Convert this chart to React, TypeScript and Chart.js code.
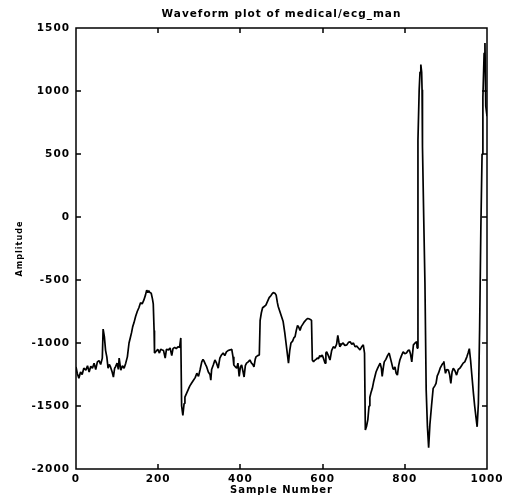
import React, { useEffect, useRef } from "react";
import { Chart, registerables } from "chart.js";

Chart.register(...registerables);

const TITLE = "Waveform plot of medical/ecg_man";
const X_TITLE = "Sample Number";
const Y_TITLE = "Amplitude";

const X_MIN = 0;
const X_MAX = 1000;
const X_STEP = 200;
const Y_MIN = -2000;
const Y_MAX = 1500;
const Y_STEP = 500;

const sampleIndex: number[] = [
  0, 3, 7, 11, 15, 19, 24, 28, 32, 36, 40, 44, 48, 52, 56, 60, 64, 66, 69, 72,
  75, 78, 81, 84, 88, 91, 94, 96, 100, 103, 105, 109, 113, 117, 121, 125, 129, 132, 135, 138,
  141, 145, 149, 153, 157, 161, 165, 169, 172, 175, 177, 180, 183, 186, 188, 190, 191, 195, 199, 203,
  206, 210, 213, 217, 220, 225, 229, 233, 236, 240, 244, 248, 252, 255, 257, 260, 263, 265, 269, 273,
  277, 281, 285, 290, 294, 298, 302, 306, 309, 311, 315, 318, 322, 326, 328, 330, 334, 338, 342, 346,
  350, 354, 358, 362, 366, 370, 375, 379, 382, 384, 388, 391, 394, 397, 400, 403, 406, 409, 412, 415,
  419, 423, 427, 430, 433, 436, 438, 442, 446, 448, 451, 454, 458, 462, 466, 470, 474, 477, 480, 484,
  487, 490, 492, 496, 500, 504, 508, 511, 514, 517, 520, 523, 527, 530, 533, 536, 539, 542, 545, 548,
  552, 556, 560, 564, 568, 571, 573, 575, 578, 580, 584, 587, 590, 593, 596, 599, 602, 606, 608, 610,
  614, 618, 622, 626, 630, 634, 637, 640, 642, 646, 650, 654, 659, 663, 667, 671, 675, 679, 683, 687,
  691, 695, 699, 702, 704, 707, 710, 713, 715, 718, 721, 724, 727, 730, 734, 737, 740, 743, 745, 748,
  750, 754, 758, 762, 765, 768, 771, 773, 776, 779, 782, 785, 788, 792, 796, 800, 804, 808, 811, 814,
  817, 819, 821, 825, 829, 830, 832, 835, 837, 839, 841, 842, 843, 846, 849, 852, 855, 858, 861, 865,
  869, 873, 876, 879, 882, 886, 890, 893, 895, 897, 899, 902, 906, 909, 912, 915, 918, 922, 926, 930,
  934, 938, 942, 946, 951, 954, 957, 960, 963, 967, 970, 973, 976, 979, 982, 985, 988, 990, 993, 995,
  997, 1000,
];

const amplitude: number[] = [
  -1190, -1240, -1280, -1230, -1250, -1200, -1215, -1180, -1230, -1185, -1200, -1160, -1210, -1150, -1140, -1170, -1120, -890, -950, -1060,
  -1110, -1200, -1170, -1190, -1230, -1270, -1200, -1190, -1160, -1210, -1120, -1215, -1180, -1200, -1160, -1110, -1000, -960, -920, -870,
  -840, -790, -750, -720, -680, -690, -660, -620, -580, -600, -585, -600, -605, -650, -690, -900, -1080, -1065, -1050, -1080,
  -1050, -1056, -1060, -1120, -1050, -1055, -1040, -1100, -1045, -1035, -1045, -1030, -1035, -960, -1500, -1575, -1480, -1430, -1400, -1370,
  -1340, -1320, -1300, -1275, -1240, -1265, -1210, -1150, -1130, -1140, -1170, -1190, -1230, -1250, -1295, -1210, -1175, -1135, -1160, -1200,
  -1120, -1095, -1080, -1100, -1070, -1060, -1055, -1050, -1110, -1175, -1190, -1200, -1160, -1265, -1190, -1175, -1220, -1270, -1180, -1160,
  -1150, -1135, -1160, -1170, -1190, -1130, -1110, -1100, -1095, -820, -760, -720, -710, -700, -670, -640, -625, -610, -600, -605,
  -620, -680, -710, -750, -790, -830, -920, -1000, -1080, -1160, -1060, -1000, -985, -960, -950, -900, -860, -875, -900, -870,
  -850, -830, -815, -805, -810, -815, -820, -1135, -1150, -1140, -1130, -1120, -1125, -1100, -1110, -1095, -1120, -1160, -1080, -1070,
  -1100, -1135, -1060, -1030, -1040, -1010, -940, -1000, -1030, -1010, -1000, -1020, -1015, -995, -990, -1010, -1000, -1030, -1025, -1040,
  -1055, -1030, -1015, -1080, -1690, -1660, -1610, -1500, -1430, -1390, -1360, -1310, -1270, -1230, -1200, -1180, -1160, -1200, -1265, -1190,
  -1150, -1130, -1100, -1080, -1120, -1160, -1200, -1210, -1190, -1240, -1255, -1180, -1135, -1100, -1070, -1085, -1080, -1060, -1055, -1090,
  -1150, -1080, -1015, -1000, -990, -1040, 610, 1010, 1150, 1210, 1150, 1010, 560, 0, -520, -1370, -1660, -1830, -1650, -1500,
  -1360, -1340, -1320, -1260, -1240, -1200, -1175, -1160, -1145, -1200, -1240, -1210, -1215, -1250, -1320, -1230, -1200, -1220, -1255, -1210,
  -1200, -1180, -1160, -1150, -1110, -1080, -1045, -1135, -1250, -1400, -1500, -1585, -1665, -1480, -900, -100, 500, 950, 1300, 1380,
  880, 800,
];

const FONT = '"DejaVu Sans", sans-serif';

const framePlugin = {
  id: "frameTicks",
  beforeDraw(chart: any) {
    chart.ctx.letterSpacing = "1px";
  },
  afterDatasetsDraw(chart: any) {
    const { ctx, chartArea: a, scales } = chart;
    ctx.save();
    ctx.strokeStyle = "#000";
    ctx.lineWidth = 1.5;
    ctx.strokeRect(a.left, a.top, a.right - a.left, a.bottom - a.top);
    ctx.lineWidth = 1.5;
    const L = 5;
    ctx.beginPath();
    scales.x.ticks.forEach((t: any) => {
      if (t.value <= X_MIN || t.value >= X_MAX) return;
      const px = Math.round(scales.x.getPixelForValue(t.value));
      ctx.moveTo(px, a.bottom);
      ctx.lineTo(px, a.bottom - L);
      ctx.moveTo(px, a.top);
      ctx.lineTo(px, a.top + L);
    });
    scales.y.ticks.forEach((t: any) => {
      if (t.value <= Y_MIN || t.value >= Y_MAX) return;
      const py = Math.round(scales.y.getPixelForValue(t.value));
      ctx.moveTo(a.left, py);
      ctx.lineTo(a.left + L, py);
      ctx.moveTo(a.right, py);
      ctx.lineTo(a.right - L, py);
    });
    ctx.stroke();
    ctx.restore();
  },
  afterDraw(chart: any) {
    chart.ctx.letterSpacing = "0px";
  },
};

export default function App() {
  const ref = useRef<HTMLCanvasElement | null>(null);

  useEffect(() => {
    document.body.style.margin = "0";
    const canvas = ref.current;
    if (!canvas) return;
    const points = sampleIndex.map((s, i) => ({ x: s, y: amplitude[i] }));
    const chart = new Chart(canvas, {
      type: "line",
      data: {
        datasets: [
          {
            data: points,
            borderColor: "#000",
            borderWidth: 1.7,
            borderJoinStyle: "bevel",
            pointRadius: 0,
            tension: 0,
            fill: false,
          },
        ],
      },
      options: {
        animation: false,
        responsive: false,
        devicePixelRatio: 1,
        layout: { padding: { left: 0, right: 21, top: 0, bottom: 0 } },
        plugins: {
          legend: { display: false },
          tooltip: { enabled: false },
          title: {
            display: true,
            text: TITLE,
            fullSize: false,
            color: "#000",
            font: { family: FONT, size: 10.5, weight: "bold", lineHeight: 1.2 },
            padding: { top: 8, bottom: 7.4 },
          },
        },
        scales: {
          x: {
            type: "linear",
            min: X_MIN,
            max: X_MAX,
            grid: { display: false, drawTicks: false },
            border: { display: false },
            ticks: {
              stepSize: X_STEP,
              color: "#000",
              padding: 4,
              maxRotation: 0,
              callback: (v: any) => String(v),
              font: { family: FONT, size: 10.5, weight: "bold", lineHeight: 1.2 },
            },
            title: {
              display: true,
              text: X_TITLE,
              color: "#000",
              font: { family: FONT, size: 10, weight: "bold", lineHeight: 1.2 },
              padding: { top: 0, bottom: 0 },
            },
            afterFit(scale: any) {
              scale.height = 27;
            },
          },
          y: {
            type: "linear",
            min: Y_MIN,
            max: Y_MAX,
            grid: { display: false, drawTicks: false },
            border: { display: false },
            ticks: {
              stepSize: Y_STEP,
              color: "#000",
              padding: 6,
              callback: (v: any) => String(v),
              font: { family: FONT, size: 10.5, weight: "bold", lineHeight: 1.2 },
            },
            title: {
              display: true,
              text: Y_TITLE,
              color: "#000",
              font: {
                family: '"DejaVu Sans Condensed", "Liberation Sans Narrow", "DejaVu Sans", sans-serif',
                size: 9,
                weight: "bold",
                lineHeight: 1.2,
              },
              padding: { top: 14.6, bottom: 0 },
            },
            afterFit(scale: any) {
              scale.width = 76;
            },
          },
        },
      },
      plugins: [framePlugin],
    });
    return () => chart.destroy();
  }, []);

  return (
    <div style={{ width: 508, height: 496, position: "relative", background: "#fff" }}>
      <canvas ref={ref} width={508} height={496} />
    </div>
  );
}
